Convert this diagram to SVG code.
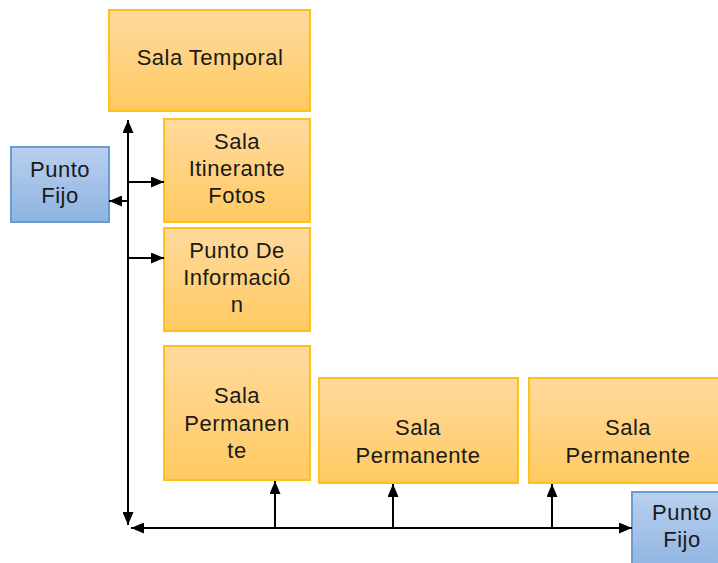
<svg xmlns="http://www.w3.org/2000/svg" width="718" height="563" viewBox="0 0 718 563">
<defs>
<linearGradient id="gOr" x1="0" y1="0" x2="0" y2="1"><stop offset="0" stop-color="#FFDA9E"/><stop offset="1" stop-color="#FFCA62"/></linearGradient>
<linearGradient id="gBl" x1="0" y1="0" x2="0" y2="1"><stop offset="0" stop-color="#BAD0EE"/><stop offset="1" stop-color="#8DB3E2"/></linearGradient>
<marker id="ah" viewBox="0 0 13 11" refX="13" refY="5.5" markerWidth="13" markerHeight="11" markerUnits="userSpaceOnUse" orient="auto"><path d="M0,0 L13,5.5 L0,11 Z" fill="#000"/></marker>
<style>
.o{fill:url(#gOr);stroke:#FFC21A;stroke-width:2}
.b{fill:url(#gBl);stroke:#6C9BD2;stroke-width:2}
text{font-family:"Liberation Sans",Arial,sans-serif;font-size:22px;fill:#1a1a1a;text-anchor:middle;letter-spacing:0.5px}
.c line{stroke:#000;stroke-width:2}
</style>
</defs>
<g id="salaTemporal"><rect class="o" x="109" y="10" width="201" height="101"/><text x="210" y="65">Sala Temporal</text></g>
<g id="salaItinerante"><rect class="o" x="164" y="119" width="146" height="103"/><text x="237" y="149">Sala</text><text x="237" y="176">Itinerante</text><text x="237" y="203">Fotos</text></g>
<g id="puntoInfo"><rect class="o" x="164" y="228" width="146" height="103"/><text x="237" y="258">Punto De</text><text x="237" y="285">Informació</text><text x="237" y="312">n</text></g>
<g id="salaPerm1"><rect class="o" x="164" y="346" width="146" height="134"/><text x="237" y="403">Sala</text><text x="237" y="431">Permanen</text><text x="237" y="458">te</text></g>
<g id="salaPerm2"><rect class="o" x="319" y="378" width="199" height="105"/><text x="418" y="435">Sala</text><text x="418" y="463">Permanente</text></g>
<g id="salaPerm3"><rect class="o" x="529" y="378" width="198" height="105"/><text x="628" y="435">Sala</text><text x="628" y="463">Permanente</text></g>
<g id="puntoFijo1"><rect class="b" x="11" y="147" width="98" height="75"/><text x="60" y="177">Punto</text><text x="60" y="203">Fijo</text></g>
<g id="puntoFijo2"><rect class="b" x="632" y="492" width="100" height="80"/><text x="682" y="520">Punto</text><text x="682" y="547">Fijo</text></g>
<g id="connectors" class="c">
<line x1="128" y1="320" x2="128" y2="120" marker-end="url(#ah)"/>
<line x1="128" y1="320" x2="128" y2="525" marker-end="url(#ah)"/>
<line x1="128" y1="182" x2="164" y2="182" marker-end="url(#ah)"/>
<line x1="128" y1="201" x2="109" y2="201" marker-end="url(#ah)"/>
<line x1="128" y1="258" x2="164" y2="258" marker-end="url(#ah)"/>
<line x1="300" y1="528" x2="131" y2="528" marker-end="url(#ah)"/>
<line x1="300" y1="528" x2="632" y2="528" marker-end="url(#ah)"/>
<line x1="275" y1="528" x2="275" y2="481" marker-end="url(#ah)"/>
<line x1="393" y1="528" x2="393" y2="484" marker-end="url(#ah)"/>
<line x1="552" y1="528" x2="552" y2="484" marker-end="url(#ah)"/>
</g>
</svg>
